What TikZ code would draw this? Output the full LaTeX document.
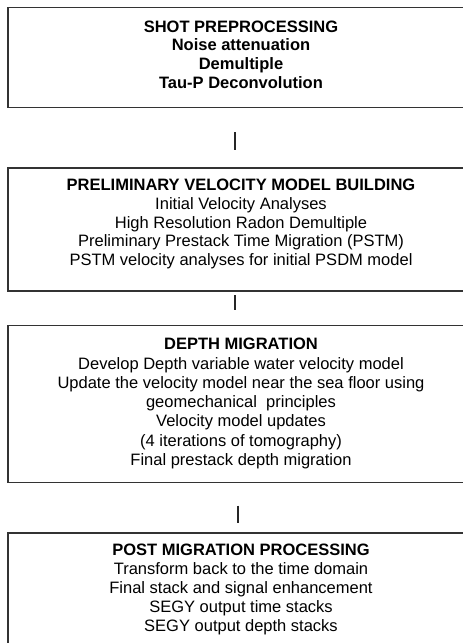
\documentclass[tikz,border=0pt]{standalone}
\usepackage{fontspec}
\setmainfont{Liberation Sans}
\begin{document}
\begin{tikzpicture}[x=1pt,y=-1pt,
  stage/.style={draw=black!80, line width=1.6pt, rectangle, outer sep=0pt,
    inner sep=0pt, minimum width=466pt, anchor=north west},
  txt/.style={align=center, inner sep=0pt, anchor=north,
    font=\fontsize{16.5}{18.7}\selectfont},
  link/.style={draw=black!85, line width=2pt}]
\useasboundingbox (0,0) rectangle (463,643);
\clip (0,0) rectangle (463,643);

% stage frames
\node[stage, minimum height=100pt] (b1) at (8,7.5) {};
\node[stage, minimum height=123pt] (b2) at (8,168) {};
\node[stage, minimum height=157pt] (b3) at (8,325.5) {};
\node[stage, minimum height=140pt] (b4) at (8,533) {};

% stage contents
\node[txt] (t1) at (241,20.5) {\bfseries SHOT PREPROCESSING\\ \bfseries Noise attenuation\\ \bfseries Demultiple\\ \bfseries Tau-P Deconvolution};
\node[txt] (t2) at (241,179) {\bfseries PRELIMINARY VELOCITY MODEL BUILDING\\ Initial Velocity Analyses\\ High Resolution Radon Demultiple\\ Preliminary Prestack Time Migration (PSTM)\\ PSTM velocity analyses for initial PSDM model};
\node[txt, font=\fontsize{16.5}{19.3}\selectfont] (t3) at (241,338) {\bfseries DEPTH MIGRATION\\ Develop Depth variable water velocity model\\ Update the velocity model near the sea floor using\\ geomechanical\ \ principles\\ Velocity model updates\\ (4 iterations of tomography)\\ Final prestack depth migration};
\node[txt, font=\fontsize{16.5}{19}\selectfont] (t4) at (241,544) {\bfseries POST MIGRATION PROCESSING\\ Transform back to the time domain\\ Final stack and signal enhancement\\ SEGY output time stacks\\ SEGY output depth stacks};

% short ticks between stages
\draw[link, shorten <=24.5pt, shorten >=18pt] ([xshift=-6pt]b1.south) -- ([xshift=-6pt]b2.north);
\draw[link, shorten <=4pt, shorten >=15.5pt] ([xshift=-6pt]b2.south) -- ([xshift=-6pt]b3.north);
\draw[link, shorten <=23pt, shorten >=10pt] ([xshift=-3pt]b3.south) -- ([xshift=-3pt]b4.north);
\end{tikzpicture}
\end{document}
